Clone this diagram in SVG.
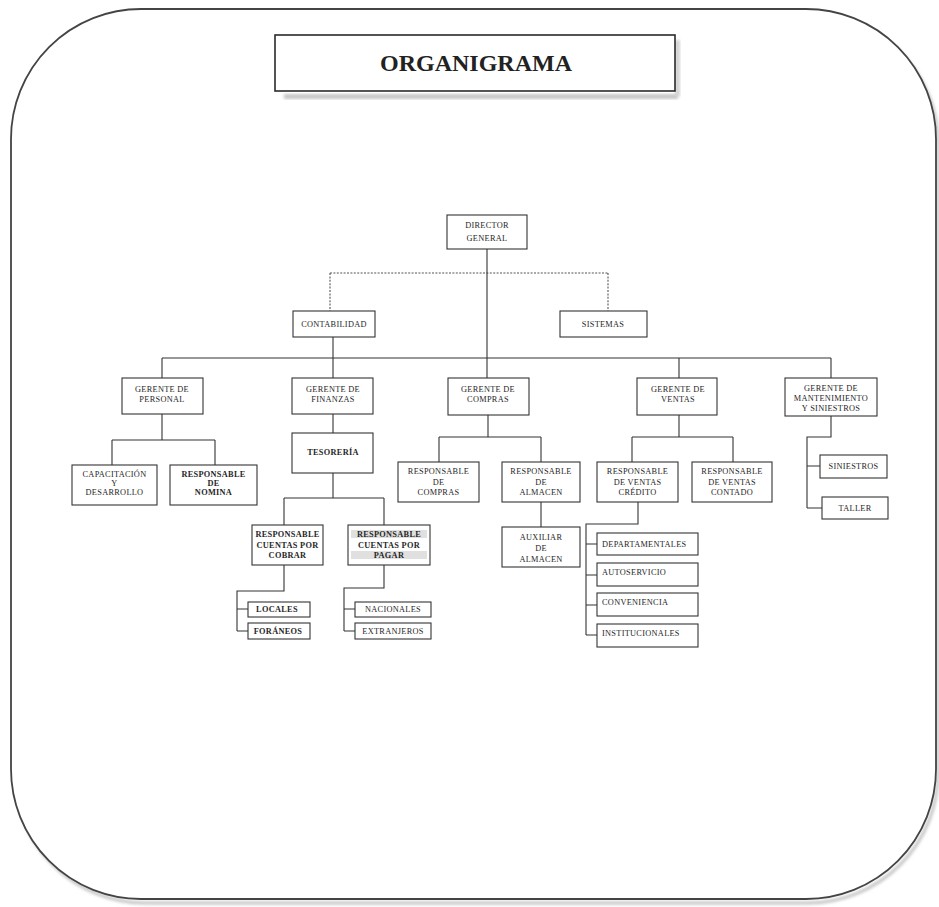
<svg xmlns="http://www.w3.org/2000/svg" width="939" height="907" viewBox="0 0 939 907">
  <defs>
    <style>
      .box{fill:#fff;stroke:#333;stroke-width:1.1}
      .t{font-family:"Liberation Serif","Times New Roman",serif;font-size:8.3px;letter-spacing:0.3px;fill:#262626;text-anchor:middle}
      .l{text-anchor:start}
      .b{font-weight:bold}
      .ln{fill:none;stroke:#333;stroke-width:1.1}
      .dot{stroke:#555;stroke-dasharray:2 1.4}
      .hl{fill:#e0e0e0}
    </style>
    <filter id="soft" x="-5%" y="-20%" width="110%" height="140%">
      <feGaussianBlur stdDeviation="1.6"/>
    </filter>
  </defs>

  <rect width="939" height="907" fill="#fff"/>

  <!-- page frame with drop shadow -->
  <g id="frame">
    <rect x="15" y="14" width="923" height="889" rx="130" ry="130" fill="none" stroke="#c2c2c2" stroke-width="3" filter="url(#soft)"/>
    <rect x="11" y="9" width="925" height="890" rx="130" ry="130" fill="#fff" stroke="#444" stroke-width="1.8"/>
  </g>

  <!-- heading -->
  <g id="title">
    <rect x="284" y="94" width="394" height="5" fill="#c6c6c6" filter="url(#soft)"/>
    <rect x="675" y="40" width="5" height="56" fill="#d2d2d2" filter="url(#soft)"/>
    <rect x="275" y="35" width="400" height="56" fill="#fff" stroke="#2a2a2a" stroke-width="1.6"/>
    <text x="476" y="71" font-family="'Liberation Serif','Times New Roman',serif" font-size="24" font-weight="bold" fill="#222" text-anchor="middle">ORGANIGRAMA</text>
  </g>

  <!-- connectors -->
  <g id="connectors">
    <path class="ln dot" d="M330 273H608M330 273V311M608 273V311"/>
    <path class="ln" d="M487 249V378"/>
    <path class="ln" d="M333 337V378"/>
    <path class="ln" d="M162 358H831M162 358V378M679 358V378M831 358V378"/>
    <!-- personal -->
    <path class="ln" d="M162 414V440M112 440H215M112 440V465M215 440V465"/>
    <!-- finanzas -->
    <path class="ln" d="M333 414V433M333 473V498M284 498H384M284 498V525M384 498V525"/>
    <path class="ln" d="M284 565V591H237V631M237 609H248M237 631H248"/>
    <path class="ln" d="M384 565V588H344V631M344 609H355M344 631H355"/>
    <!-- compras -->
    <path class="ln" d="M488 415V437M439 437H541M439 437V462M541 437V462M541 502V527"/>
    <!-- ventas -->
    <path class="ln" d="M679 415V437M632 437H733M632 437V462M733 437V462"/>
    <path class="ln" d="M638 502V524H586V635M586 544H597M586 575H597M586 605H597M586 635H597"/>
    <!-- mantenimiento -->
    <path class="ln" d="M831 416V437H807V508M807 466H820M807 508H822"/>
  </g>

  <g id="director">
    <rect class="box" x="447" y="215" width="80" height="34"/>
    <text class="t" x="487" y="228">DIRECTOR</text>
    <text class="t" x="487" y="241">GENERAL</text>
  </g>
  <g id="contabilidad">
    <rect class="box" x="293" y="311" width="82" height="26"/>
    <text class="t" x="334" y="326.5">CONTABILIDAD</text>
  </g>
  <g id="sistemas">
    <rect class="box" x="560" y="311" width="87" height="26"/>
    <text class="t" x="603" y="326.5">SISTEMAS</text>
  </g>

  <g id="gerente-personal">
    <rect class="box" x="122" y="378" width="81" height="36"/>
    <text class="t" x="162" y="392">GERENTE DE</text>
    <text class="t" x="162" y="402">PERSONAL</text>
  </g>
  <g id="gerente-finanzas">
    <rect class="box" x="292" y="378" width="81" height="36"/>
    <text class="t" x="333" y="392">GERENTE DE</text>
    <text class="t" x="333" y="402">FINANZAS</text>
  </g>
  <g id="gerente-compras">
    <rect class="box" x="448" y="378" width="81" height="37"/>
    <text class="t" x="488" y="392">GERENTE DE</text>
    <text class="t" x="488" y="402">COMPRAS</text>
  </g>
  <g id="gerente-ventas">
    <rect class="box" x="637" y="378" width="80" height="37"/>
    <text class="t" x="678" y="392">GERENTE DE</text>
    <text class="t" x="678" y="402">VENTAS</text>
  </g>
  <g id="gerente-mantenimiento">
    <rect class="box" x="785" y="378" width="92" height="38"/>
    <text class="t" x="831" y="391">GERENTE DE</text>
    <text class="t" x="831" y="401">MANTENIMIENTO</text>
    <text class="t" x="831" y="411">Y SINIESTROS</text>
  </g>

  <g id="capacitacion">
    <rect class="box" x="72" y="465" width="85" height="40"/>
    <text class="t" x="114.5" y="477">CAPACITACIÓN</text>
    <text class="t" x="114.5" y="486">Y</text>
    <text class="t" x="114.5" y="495">DESARROLLO</text>
  </g>
  <g id="nomina">
    <rect class="box" x="170" y="465" width="87" height="40"/>
    <text class="t b" x="213.5" y="477">RESPONSABLE</text>
    <text class="t b" x="213.5" y="486">DE</text>
    <text class="t b" x="213.5" y="495">NOMINA</text>
  </g>

  <g id="tesoreria">
    <rect class="box" x="292" y="433" width="81" height="40"/>
    <text class="t b" x="333" y="455">TESORERÍA</text>
  </g>
  <g id="cobrar">
    <rect class="box" x="252" y="525" width="71" height="40"/>
    <text class="t b" x="287.5" y="536.5">RESPONSABLE</text>
    <text class="t b" x="287.5" y="547.5">CUENTAS POR</text>
    <text class="t b" x="287.5" y="558">COBRAR</text>
  </g>
  <g id="pagar">
    <rect class="box" x="348" y="525" width="82" height="40"/>
    <rect class="hl" x="351" y="530" width="76" height="8"/>
    <rect class="hl" x="351" y="551" width="76" height="8"/>
    <text class="t b" x="389" y="536.5">RESPONSABLE</text>
    <text class="t b" x="389" y="547.5">CUENTAS POR</text>
    <text class="t b" x="389" y="558">PAGAR</text>
  </g>
  <g id="locales">
    <rect class="box" x="248" y="602" width="62" height="15"/>
    <text class="t b" x="277" y="612">LOCALES</text>
  </g>
  <g id="foraneos">
    <rect class="box" x="248" y="623" width="62" height="16"/>
    <text class="t b" x="278" y="634">FORÁNEOS</text>
  </g>
  <g id="nacionales">
    <rect class="box" x="355" y="602" width="76" height="15"/>
    <text class="t" x="393" y="612">NACIONALES</text>
  </g>
  <g id="extranjeros">
    <rect class="box" x="355" y="623" width="76" height="16"/>
    <text class="t" x="393" y="634">EXTRANJEROS</text>
  </g>

  <g id="resp-compras">
    <rect class="box" x="398" y="462" width="81" height="40"/>
    <text class="t" x="438.5" y="474">RESPONSABLE</text>
    <text class="t" x="438.5" y="484.5">DE</text>
    <text class="t" x="438.5" y="495">COMPRAS</text>
  </g>
  <g id="resp-almacen">
    <rect class="box" x="502" y="462" width="78" height="40"/>
    <text class="t" x="541" y="474">RESPONSABLE</text>
    <text class="t" x="541" y="484.5">DE</text>
    <text class="t" x="541" y="495">ALMACEN</text>
  </g>
  <g id="auxiliar-almacen">
    <rect class="box" x="502" y="527" width="78" height="40"/>
    <text class="t" x="541" y="540">AUXILIAR</text>
    <text class="t" x="541" y="551">DE</text>
    <text class="t" x="541" y="562">ALMACEN</text>
  </g>

  <g id="ventas-credito">
    <rect class="box" x="597" y="462" width="81" height="40"/>
    <text class="t" x="637.5" y="474">RESPONSABLE</text>
    <text class="t" x="637.5" y="484.5">DE VENTAS</text>
    <text class="t" x="637.5" y="495">CRÉDITO</text>
  </g>
  <g id="ventas-contado">
    <rect class="box" x="692" y="462" width="80" height="40"/>
    <text class="t" x="732" y="474">RESPONSABLE</text>
    <text class="t" x="732" y="484.5">DE VENTAS</text>
    <text class="t" x="732" y="495">CONTADO</text>
  </g>
  <g id="departamentales">
    <rect class="box" x="597" y="533" width="101" height="22"/>
    <text class="t l" x="602" y="546.5">DEPARTAMENTALES</text>
  </g>
  <g id="autoservicio">
    <rect class="box" x="597" y="563" width="101" height="23"/>
    <text class="t l" x="602" y="575">AUTOSERVICIO</text>
  </g>
  <g id="conveniencia">
    <rect class="box" x="597" y="593" width="101" height="23"/>
    <text class="t l" x="602" y="605">CONVENIENCIA</text>
  </g>
  <g id="institucionales">
    <rect class="box" x="597" y="624" width="101" height="23"/>
    <text class="t l" x="602" y="636">INSTITUCIONALES</text>
  </g>

  <g id="siniestros">
    <rect class="box" x="820" y="455" width="67" height="23"/>
    <text class="t" x="853.5" y="469">SINIESTROS</text>
  </g>
  <g id="taller">
    <rect class="box" x="822" y="497" width="66" height="22"/>
    <text class="t" x="855" y="510.5">TALLER</text>
  </g>
</svg>
